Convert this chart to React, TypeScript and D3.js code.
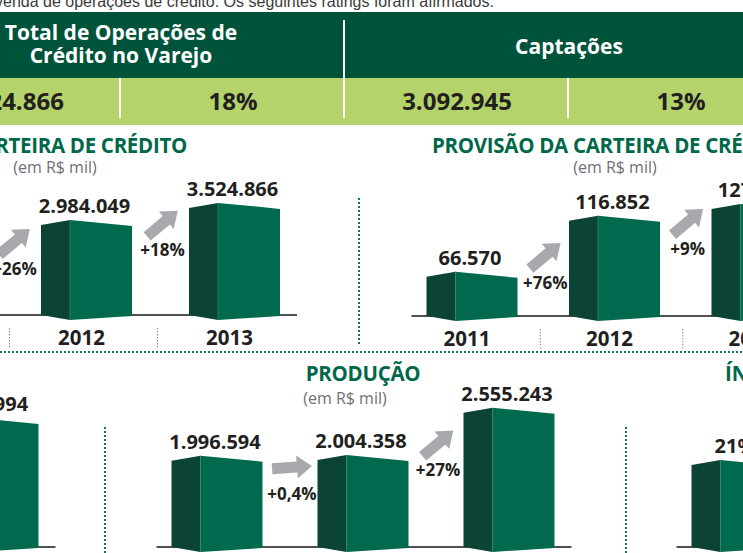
import React from "react";
import * as d3 from "d3";

const W = 743;
const H = 553;

const introText = "venda de operações de crédito. Os seguintes ratings foram afirmados:";

const tableHeaders = ["Total de Operações de|Crédito no Varejo", "Captações"];
const tableValues = ["3.524.866", "18%", "3.092.945", "13%"];

const carteiraYears = ["2011", "2012", "2013"];
const carteiraValues = [2368293, 2984049, 3524866];
const carteiraGrowth = ["+26%", "+18%"];

const provisaoYears = ["2011", "2012", "2013"];
const provisaoValues = [66570, 116852, 127369];
const provisaoGrowth = ["+76%", "+9%"];

const producaoYears = ["2011", "2012", "2013"];
const producaoValues = [1996594, 2004358, 2555243];
const producaoGrowth = ["+0,4%", "+27%"];

const clientesYears = ["2013"];
const clientesValues = [847994];

const indiceYears = ["2011"];
const indiceValues = [21];

const fmtBR = d3
  .formatLocale({ decimal: ",", thousands: ".", grouping: [3], currency: ["R$", ""] })
  .format(",d");

const C = {
  header: "#00533b",
  band: "#b5d36b",
  front: "#00694e",
  side: "#0b4434",
  title: "#006848",
  ink: "#231f20",
  arrow: "#a7a9ac",
  sub: "#6f7073",
  axis: "#505052",
  dots: "#13785a",
};

const FONT = "'Open Sans', 'Noto Sans', sans-serif";

type Cfg = {
  years: string[];
  values: number[];
  growth: string[];
  xRange: [number, number];
  domain: [number, number];
  hRange: [number, number];
  baseline: number;
  fmt: (v: number) => string;
  title?: string;
  titleX?: number;
  titleAnchor?: string;
  titleY?: number;
  subX?: number;
  subY?: number;
};

const BAR_W = 91;
const SIDE_W = 29;

function BarChart({ cfg }: { cfg: Cfg }) {
  const x = d3.scalePoint<string>().domain(cfg.years).range(cfg.xRange);
  const h = d3.scaleLinear().domain(cfg.domain).range(cfg.hRange);
  const b = cfg.baseline;
  const tops = cfg.values.map((v) => b - h(v));
  const cx = cfg.years.map((y) => x(y) as number);
  const axisX0 = cx[0] - BAR_W / 2 - 15;
  const axisX1 = cx[cx.length - 1] + BAR_W / 2 + 17;

  const arrowL = 40;
  const sw = 5.5;
  const hw = 11.5;
  const hl = 15;
  const arrowPath = `M0,${-sw} L${arrowL - hl},${-sw} L${arrowL - hl},${-hw} L${arrowL},0 L${arrowL - hl},${hw} L${arrowL - hl},${sw} L0,${sw} Z`;

  return (
    <g>
      {cfg.title && (
        <text
          x={cfg.titleX}
          y={cfg.titleY}
          textAnchor={cfg.titleAnchor as any}
          fill={C.title}
          fontWeight={700}
          fontSize={20.5}
          letterSpacing={-0.3}
        >
          {cfg.title}
        </text>
      )}
      {cfg.title && (
        <text x={cfg.subX} y={cfg.subY} textAnchor="middle" fill={C.sub} fontSize={16}>
          (em R$ mil)
        </text>
      )}
      <line x1={axisX0} x2={axisX1} y1={b} y2={b} stroke={C.axis} strokeWidth={2} />
      {cfg.years.map((yr, i) => {
        const c = cx[i];
        const x0 = c - BAR_W / 2;
        const xm = x0 + SIDE_W;
        const x1 = c + BAR_W / 2;
        const t = tops[i];
        return (
          <g key={yr}>
            <path d={`M${x0},${t + 5} L${xm},${t} L${xm},${b + 5} L${x0},${b} Z`} fill={C.side} />
            <path d={`M${xm},${t} L${x1},${t + 6} L${x1},${b + 1} L${xm},${b + 5} Z`} fill={C.front} />
            <line x1={xm} x2={xm} y1={t} y2={b + 5} stroke="#2f8a6c" strokeWidth={0.8} />
            <text x={c - 2} y={t - 7} textAnchor="middle" fill={C.ink} fontWeight={700} fontSize={20}>
              {cfg.fmt(cfg.values[i])}
            </text>
            <text x={c - 5} y={b + 30} textAnchor="middle" fill={C.ink} fontWeight={700} fontSize={20.5}>
              {yr}
            </text>
          </g>
        );
      })}
      {cfg.years.slice(1).map((yr, i) => {
        const mid = (cx[i] + cx[i + 1]) / 2 - 3;
        return (
          <line
            key={"sep" + yr}
            x1={mid}
            x2={mid}
            y1={b + 13}
            y2={b + 33}
            stroke="#8a8a8c"
            strokeWidth={1}
            strokeDasharray="1.5 1.5"
          />
        );
      })}
      {cfg.growth.map((g, i) => {
        const gx = (cx[i] + BAR_W / 2 + cx[i + 1] - BAR_W / 2) / 2 + 2;
        const gy = (tops[i] + tops[i + 1]) / 2 + 12;
        const ratio = cfg.values[i + 1] / cfg.values[i] - 1;
        const ang = ratio < 0.02 ? -4 : -40;
        return (
          <g key={"g" + i}>
            <path
              d={arrowPath}
              fill={C.arrow}
              transform={`translate(${gx},${gy}) rotate(${ang}) translate(${-arrowL / 2},0)`}
            />
            <text x={gx} y={gy + 33} textAnchor="middle" fill={C.ink} fontWeight={700} fontSize={17}>
              {g}
            </text>
          </g>
        );
      })}
    </g>
  );
}

export default function App() {
  const cells = d3.scaleBand<number>().domain(tableValues.map((_, i) => i)).range([-103, 793]);
  const step = cells.bandwidth();

  const charts: Cfg[] = [
    {
      years: carteiraYears,
      values: carteiraValues,
      growth: carteiraGrowth,
      xRange: [-61.5, 234.5],
      domain: [0, 3600000],
      hRange: [0, 114.5],
      baseline: 315,
      fmt: fmtBR,
      title: "CARTEIRA DE CRÉDITO",
      titleX: 187,
      titleAnchor: "end",
      titleY: 153,
      subX: 55,
      subY: 173,
    },
    {
      years: provisaoYears,
      values: provisaoValues,
      growth: provisaoGrowth,
      xRange: [472, 757],
      domain: [27000, 130000],
      hRange: [0, 115],
      baseline: 316,
      fmt: fmtBR,
      title: "PROVISÃO DA CARTEIRA DE CRÉDITO",
      titleX: 432,
      titleAnchor: "start",
      titleY: 153,
      subX: 615,
      subY: 173,
    },
    {
      years: producaoYears,
      values: producaoValues,
      growth: producaoGrowth,
      xRange: [217, 509],
      domain: [930000, 2600000],
      hRange: [0, 143],
      baseline: 547,
      fmt: fmtBR,
      title: "PRODUÇÃO",
      titleX: 363,
      titleAnchor: "middle",
      titleY: 381,
      subX: 345,
      subY: 404,
    },
    {
      years: clientesYears,
      values: clientesValues,
      growth: [],
      xRange: [-7, -7],
      domain: [0, 900000],
      hRange: [0, 137],
      baseline: 547,
      fmt: fmtBR,
    },
    {
      years: indiceYears,
      values: indiceValues,
      growth: [],
      xRange: [737, 737],
      domain: [0, 25],
      hRange: [0, 103.6],
      baseline: 547,
      fmt: (v: number) => `${v}%`,
    },
  ];

  return (
    <svg
      width={W}
      height={H}
      viewBox={`0 0 ${W} ${H}`}
      style={{ position: "absolute", left: 0, top: 0, background: "#fff", overflow: "hidden" }}
      fontFamily={FONT}
    >
      <text x={-5} y={7} fontFamily="'Liberation Sans', Arial, sans-serif" fontSize={16} fill="#3b3b3b">
        {introText}
      </text>

      <rect x={0} y={12} width={W} height={66} fill={C.header} />
      <rect x={0} y={78} width={W} height={47} fill={C.band} />

      {tableHeaders.map((t, i) => {
        const cxh = (cells(i * 2) as number) + step;
        const lines = t.split("|");
        return (
          <text key={t} x={cxh} textAnchor="middle" fill="#fff" fontWeight={700} fontSize={21}>
            {lines.map((ln, j) => (
              <tspan key={ln} x={cxh} y={lines.length === 1 ? 54 : 40 + j * 23}>
                {ln}
              </tspan>
            ))}
          </text>
        );
      })}
      {tableValues.map((v, i) => (
        <text
          key={v}
          x={(cells(i) as number) + step / 2}
          y={110}
          textAnchor="middle"
          fill={C.ink}
          fontWeight={700}
          fontSize={24}
        >
          {v}
        </text>
      ))}
      {tableValues.slice(1).map((_, i) => {
        const xx = (cells(i + 1) as number) - 1;
        const isMajor = (i + 1) % 2 === 0;
        return (
          <line
            key={"div" + i}
            x1={xx}
            x2={xx}
            y1={isMajor ? 20 : 78}
            y2={118}
            stroke="#fff"
            strokeWidth={2}
          />
        );
      })}

      {charts.map((c, i) => (
        <BarChart key={i} cfg={c} />
      ))}

      <text x={725} y={381} fill={C.title} fontWeight={700} fontSize={20.5}>
        ÍNDICE DE BASILEIA
      </text>

      <line x1={359} x2={359} y1={198} y2={344} stroke={C.dots} strokeWidth={2} strokeDasharray="2 2" />
      <line x1={0} x2={W} y1={352} y2={352} stroke={C.dots} strokeWidth={2} strokeDasharray="2 2" />
      <line x1={105} x2={105} y1={427} y2={H} stroke={C.dots} strokeWidth={2} strokeDasharray="2 2" />
      <line x1={626} x2={626} y1={427} y2={H} stroke={C.dots} strokeWidth={2} strokeDasharray="2 2" />
    </svg>
  );
}
